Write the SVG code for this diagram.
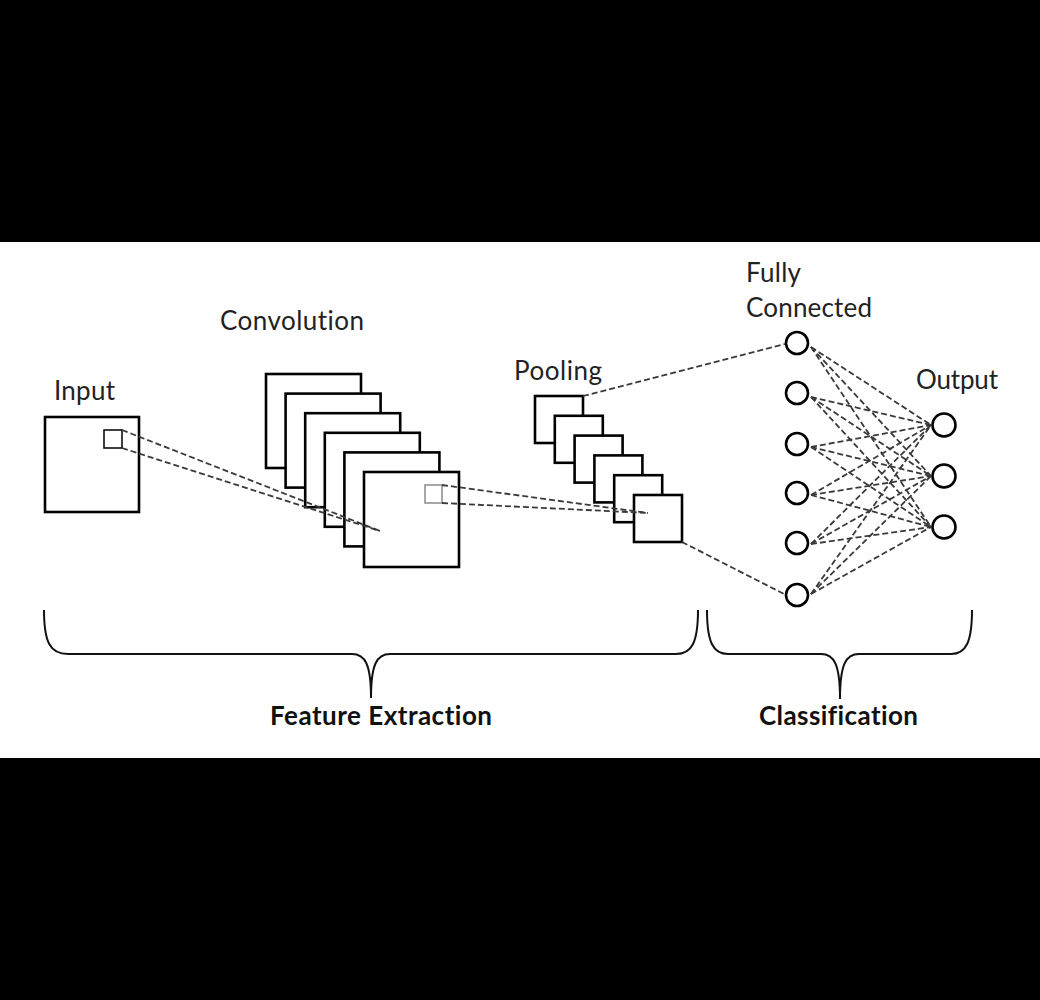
<svg xmlns="http://www.w3.org/2000/svg" width="1040" height="1000" viewBox="0 0 1040 1000">
<style>
.map{fill:#fff;stroke:#000;stroke-width:2.6}
.win{fill:none;stroke:#000;stroke-width:1.5}
.win2{fill:none;stroke:#8a8a8a;stroke-width:1.5}
.node{fill:#fff;stroke:#000;stroke-width:2.6}
.dash{fill:none;stroke:#3a3a3a;stroke-width:1.8;stroke-dasharray:6 3}
.brace{fill:none;stroke:#111;stroke-width:2}
.lbl{font-family:Lato,"Open Sans","Liberation Sans",sans-serif;font-size:26px;fill:#222;font-variant-ligatures:none}
.bold{font-family:Lato,"Open Sans","Liberation Sans",sans-serif;font-size:26px;font-weight:bold;fill:#111;font-variant-ligatures:none}
</style>
<rect x="0" y="0" width="1040" height="1000" fill="#000"/>
<rect x="0" y="242" width="1040" height="516" fill="#fff"/>

<g id="input">
<rect class="map" x="45" y="417" width="94" height="95"/>
<rect class="win" x="104" y="430" width="18" height="18"/>
<text class="lbl" x="54" y="400" textLength="61">Input</text>
</g>

<g id="convolution">
<rect class="map" x="266" y="374" width="95" height="94"/>
<rect class="map" x="285.6" y="393.6" width="95" height="94"/>
<rect class="map" x="305.2" y="413.2" width="95" height="94"/>
<rect class="map" x="324.8" y="432.8" width="95" height="94"/>
<rect class="map" x="344.4" y="452.4" width="95" height="94"/>
<rect class="map" x="364" y="472" width="95" height="95"/>
<rect class="win2" x="425" y="485" width="17" height="18"/>
<text class="lbl" x="220" y="330" textLength="144">Convolution</text>
</g>

<g id="pooling">
<rect class="map" x="535" y="396" width="48" height="47"/>
<rect class="map" x="554.8" y="415.8" width="48" height="47"/>
<rect class="map" x="574.6" y="435.6" width="48" height="47"/>
<rect class="map" x="594.4" y="455.4" width="48" height="47"/>
<rect class="map" x="614.2" y="475.2" width="48" height="47"/>
<rect class="map" x="634" y="495" width="48" height="47"/>
<text class="lbl" x="514" y="380" textLength="88">Pooling</text>
</g>

<g id="connectors">
<line class="dash" x1="122" y1="430" x2="380" y2="531"/>
<line class="dash" x1="122" y1="448" x2="380" y2="531"/>
<line class="dash" x1="442" y1="485" x2="648" y2="513"/>
<line class="dash" x1="442" y1="503" x2="648" y2="513"/>
<line class="dash" x1="583" y1="396" x2="785" y2="344"/>
<line class="dash" x1="682" y1="542" x2="786" y2="595"/>
<line class="dash" x1="811" y1="347" x2="931" y2="425"/>
<line class="dash" x1="811" y1="347" x2="931" y2="476"/>
<line class="dash" x1="811" y1="347" x2="931" y2="527"/>
<line class="dash" x1="811" y1="397" x2="931" y2="425"/>
<line class="dash" x1="811" y1="397" x2="931" y2="476"/>
<line class="dash" x1="811" y1="397" x2="931" y2="527"/>
<line class="dash" x1="811" y1="447" x2="931" y2="425"/>
<line class="dash" x1="811" y1="447" x2="931" y2="476"/>
<line class="dash" x1="811" y1="447" x2="931" y2="527"/>
<line class="dash" x1="811" y1="495" x2="931" y2="425"/>
<line class="dash" x1="811" y1="495" x2="931" y2="476"/>
<line class="dash" x1="811" y1="495" x2="931" y2="527"/>
<line class="dash" x1="811" y1="544" x2="931" y2="425"/>
<line class="dash" x1="811" y1="544" x2="931" y2="476"/>
<line class="dash" x1="811" y1="544" x2="931" y2="527"/>
<line class="dash" x1="811" y1="594" x2="931" y2="425"/>
<line class="dash" x1="811" y1="594" x2="931" y2="476"/>
<line class="dash" x1="811" y1="594" x2="931" y2="527"/>
</g>

<g id="fully-connected">
<text class="lbl" x="746" y="282" textLength="55">Fully</text>
<text class="lbl" x="746" y="317" textLength="126">Connected</text>
<g id="fc-1"><circle class="node" cx="797" cy="343" r="11"/></g>
<g id="fc-2"><circle class="node" cx="797" cy="393" r="11"/></g>
<g id="fc-3"><circle class="node" cx="797" cy="444" r="11"/></g>
<g id="fc-4"><circle class="node" cx="797" cy="493" r="11"/></g>
<g id="fc-5"><circle class="node" cx="797" cy="543" r="11"/></g>
<g id="fc-6"><circle class="node" cx="797" cy="595" r="11"/></g>
</g>

<g id="output">
<text class="lbl" x="916" y="389" textLength="82">Output</text>
<g id="out-1"><circle class="node" cx="944" cy="425" r="11.5"/></g>
<g id="out-2"><circle class="node" cx="944" cy="476" r="11.5"/></g>
<g id="out-3"><circle class="node" cx="944" cy="527" r="11.5"/></g>
</g>

<g id="feature-extraction">
<path class="brace" d="M44,610 C44,642 50,654 68,654 L352,654 C365,654 371,664 371,698 C371,664 377,654 390,654 L676,654 C692,654 698,642 698,610"/>
<text class="bold" x="270" y="725" textLength="222">Feature Extraction</text>
</g>

<g id="classification">
<path class="brace" d="M707,610 C707,642 713,654 728,654 L821,654 C834,654 840,664 840,699 C840,664 846,654 859,654 L951,654 C966,654 972,642 972,610"/>
<text class="bold" x="759" y="725" textLength="159">Classification</text>
</g>
</svg>
